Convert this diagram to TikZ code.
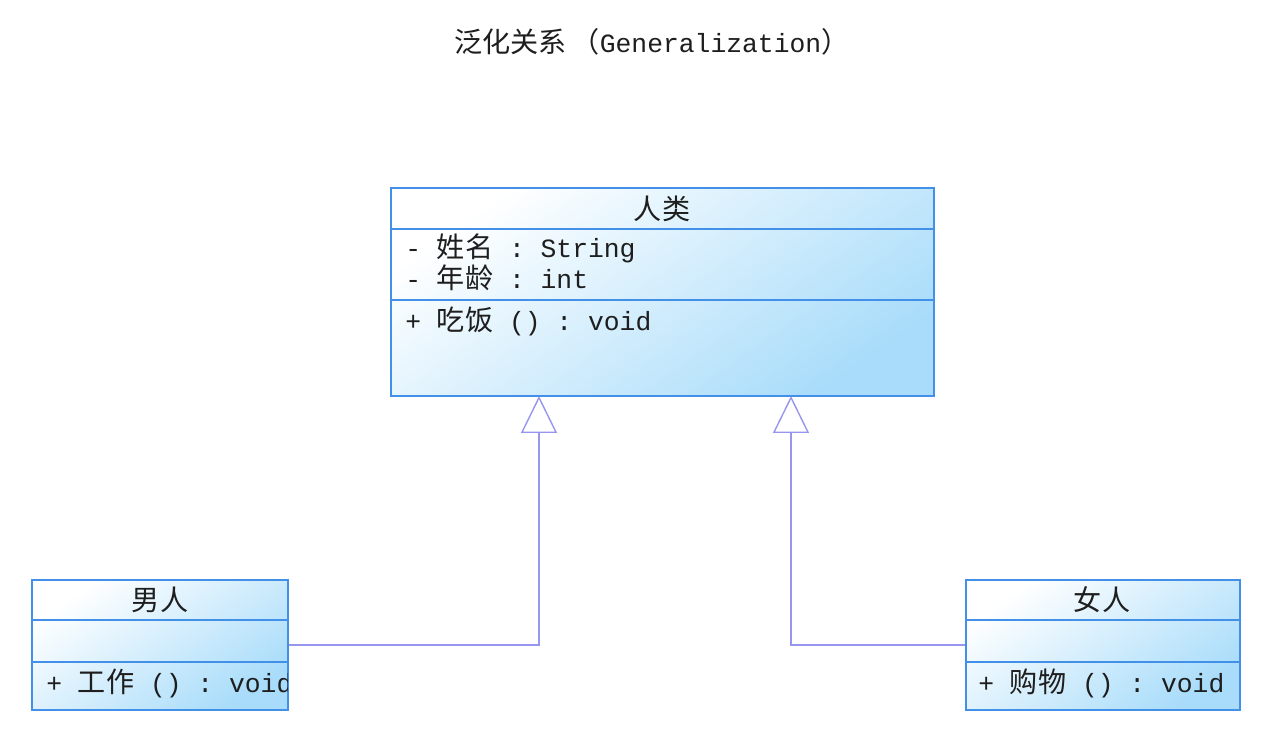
\documentclass[tikz,border=0pt]{standalone}
\usepackage{fontspec}
\setmonofont{Liberation Mono}
\newfontfamily\cjk{Noto Sans CJK SC}
\usetikzlibrary{arrows.meta}
\definecolor{umlborder}{RGB}{66,144,232}
\definecolor{umlfill}{RGB}{168,220,250}
\definecolor{umlline}{RGB}{150,150,238}
\definecolor{umltext}{RGB}{30,30,30}
\newcommand{\zh}[1]{{\cjk\fontsize{16}{17}\selectfont #1}}
\tikzset{
	cls/.style={draw=umlborder,line width=0.9pt,top color=white,bottom color=umlfill,shading angle=35,inner sep=0pt},
	divider/.style={draw=umlborder,line width=0.9pt},
	member/.style={anchor=west,inner sep=0pt,text=umltext,font=\ttfamily\fontsize{15}{17}\selectfont},
	clsname/.style={inner sep=0pt,text=umltext,font=\ttfamily\fontsize{15}{17}\selectfont},
	gen/.style={draw=umlline,line width=0.8pt,-{Triangle[open,length=0.74cm,width=0.72cm]}}
}
\begin{document}
\begin{tikzpicture}[x=0.02cm,y=-0.02cm]
	\useasboundingbox[fill=white] (0,0) rectangle (1272,740);
	\node[clsname] (title) at (652,42) {\zh{泛化关系\,（}Generalization\zh{）}};
	% class boxes
	\node[cls,minimum width=10.86cm,minimum height=4.16cm] (human) at (662.5,292) {};
	\node[cls,minimum width=5.12cm,minimum height=2.6cm] (male) at (160,645) {};
	\node[cls,minimum width=5.48cm,minimum height=2.6cm] (female) at (1103,645) {};
	\draw[divider] (391,229) -- (934,229);
	\draw[divider] (391,300) -- (934,300);
	\draw[divider] (32,620) -- (288,620);
	\draw[divider] (32,662) -- (288,662);
	\draw[divider] (966,620) -- (1240,620);
	\draw[divider] (966,662) -- (1240,662);
	% texts
	\node[clsname] (humanname) at (662,209) {\zh{人类}};
	\node[member] (humanattra) at (405,248) {- \zh{姓名} : String};
	\node[member] (humanattrb) at (405,278) {- \zh{年龄} : int};
	\node[member] (humanop) at (405,321) {+ \zh{吃饭} () : void};
	\node[clsname] (malename) at (160,600) {\zh{男人}};
	\begin{scope}
		\clip (32,580) rectangle (287,710);
		\node[member] (maleop) at (46,683) {+ \zh{工作} () : void};
	\end{scope}
	\node[clsname] (femalename) at (1102,600) {\zh{女人}};
	\node[member] (femaleop) at (978,683) {+ \zh{购物} () : void};
	% generalization
	\coordinate (gena) at (539,396);
	\coordinate (genb) at (791,396);
	\draw[gen] (male.east) -| (gena);
	\draw[gen] (female.west) -| (genb);
\end{tikzpicture}
\end{document}
